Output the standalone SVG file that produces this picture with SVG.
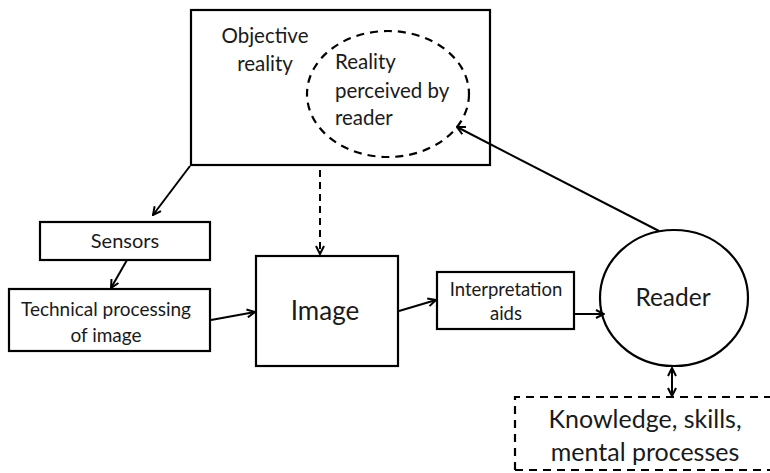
<svg xmlns="http://www.w3.org/2000/svg" width="770" height="473" viewBox="0 0 770 473">
<defs>
<marker id="ah" viewBox="0 0 10 10" refX="9" refY="5" markerWidth="10" markerHeight="10" markerUnits="userSpaceOnUse" orient="auto-start-reverse">
<path d="M1,1 L9,5 L1,9" fill="none" stroke="#000" stroke-width="2"/>
</marker>
<style>
.box{fill:#fff;stroke:#000;stroke-width:2.2}
.dash{fill:none;stroke:#000;stroke-width:2.2;stroke-dasharray:8,6}
.t{font-family:Lato,"Liberation Sans",sans-serif;fill:#1a1a1a}
.c{stroke:#000;stroke-width:2;fill:none}
</style>
</defs>
<rect width="770" height="473" fill="#fff"/>
<g id="objective">
<rect class="box" x="191" y="10" width="299" height="155"/>
<text class="t" x="265" y="43" font-size="20.5" text-anchor="middle">Objective</text>
<text class="t" x="265" y="71" font-size="20.5" text-anchor="middle">reality</text>
</g>
<g id="perceived">
<ellipse class="dash" cx="388" cy="94" rx="81" ry="63"/>
<text class="t" x="335" y="69" font-size="20.5">Reality</text>
<text class="t" x="335" y="98" font-size="20.5">perceived by</text>
<text class="t" x="335" y="125" font-size="20.5">reader</text>
</g>
<g id="sensors">
<rect class="box" x="40" y="222" width="170" height="38"/>
<text class="t" x="125" y="248" font-size="20" text-anchor="middle">Sensors</text>
</g>
<g id="technical">
<rect class="box" x="9" y="289" width="201" height="62"/>
<text class="t" x="106" y="316" font-size="19" text-anchor="middle">Technical processing</text>
<text class="t" x="106" y="342" font-size="19" text-anchor="middle">of image</text>
</g>
<g id="image">
<rect class="box" x="256" y="256" width="142" height="110"/>
<text class="t" x="325" y="320" font-size="26" text-anchor="middle">Image</text>
</g>
<g id="aids">
<rect class="box" x="437" y="272" width="137" height="57"/>
<text class="t" x="506" y="296" font-size="18.5" text-anchor="middle">Interpretation</text>
<text class="t" x="506" y="320" font-size="18.5" text-anchor="middle">aids</text>
</g>
<g id="reader">
<ellipse class="box" cx="674" cy="298" rx="74" ry="68"/>
<text class="t" x="673" y="306" font-size="24.5" text-anchor="middle">Reader</text>
</g>
<g id="knowledge">
<path class="dash" d="M515,470 L515,397 L775,397 M515,470 L775,470"/>
<text class="t" x="645" y="428" font-size="25" text-anchor="middle">Knowledge, skills,</text>
<text class="t" x="645" y="461" font-size="25" text-anchor="middle">mental processes</text>
</g>
<g id="connectors">
<line class="c" x1="190" y1="166" x2="153" y2="215" marker-end="url(#ah)"/>
<line class="c" x1="127" y1="260" x2="111" y2="288" marker-end="url(#ah)"/>
<line class="c" x1="211" y1="320" x2="255" y2="312" marker-end="url(#ah)"/>
<line class="c" x1="320" y1="170" x2="320" y2="254" stroke-dasharray="7,5" marker-end="url(#ah)"/>
<line class="c" x1="399" y1="311" x2="436" y2="300" marker-end="url(#ah)"/>
<line class="c" x1="575" y1="314" x2="604" y2="314" marker-end="url(#ah)"/>
<line class="c" x1="659" y1="231" x2="457" y2="127" marker-end="url(#ah)"/>
<line class="c" x1="672" y1="368" x2="672" y2="396" marker-start="url(#ah)" marker-end="url(#ah)"/>
</g>
</svg>
